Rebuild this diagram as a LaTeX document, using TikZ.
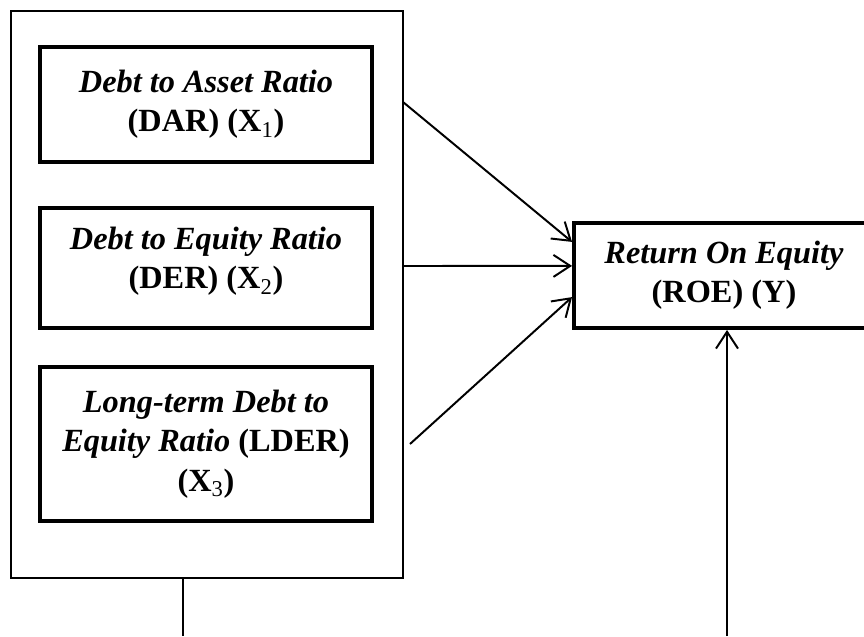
\documentclass[tikz,border=0pt]{standalone}
\usepackage{fontspec}
\setmainfont{Liberation Serif}
\usepackage{tikz}
\usetikzlibrary{arrows.meta, positioning}

\begin{document}
\begin{tikzpicture}[>={Straight Barb[length=0.42cm,width=0.55cm]},
    varbox/.style={draw, line width=2.8pt, align=center, inner sep=0pt,
                   font=\fontsize{23}{28}\selectfont},
    link/.style={->, line width=1.4pt}]
  \useasboundingbox (0,0) rectangle (21.6,-15.9);
  \clip (0,0) rectangle (21.6,-15.9);

  % Independent variables inside one frame
  \node[draw, line width=1.3pt, minimum width=9.8cm, minimum height=14.175cm]
    (frame) at (5.175,-7.3625) {};
  \node[varbox, minimum width=8.3cm, minimum height=2.875cm] (dar) at (5.15,-2.6125)
    {\textbf{\textit{Debt to Asset Ratio}}\\\textbf{(DAR) (X\textsubscript{\mdseries 1})}};
  \node[varbox, minimum width=8.3cm, minimum height=3.0cm, text depth=0.5cm] (der) at (5.15,-6.7)
    {\textbf{\textit{Debt to Equity Ratio}}\\\textbf{(DER) (X\textsubscript{\mdseries 2})}};
  \node[varbox, minimum width=8.3cm, minimum height=3.85cm] (lder) at (5.15,-11.1)
    {\textbf{\textit{Long-term Debt to}}\\\textbf{\textit{Equity Ratio} (LDER)}\\\textbf{(X\textsubscript{\mdseries 3})}};

  % Dependent variable
  \node[varbox, minimum width=7.5cm, minimum height=2.625cm] (roe) at (18.1,-6.8875)
    {\textbf{\textit{Return On Equity}}\\\textbf{(ROE) (Y)}};

  % Arrow start points on the frame
  \coordinate (darOut) at (10.075,-2.55);
  \coordinate (derOut) at (10.075,-6.65);
  \coordinate (lderOut) at (10.25,-11.1);
  \draw[link] (darOut) -- ([yshift=0.84cm]roe.west);
  \draw[link] (derOut) -- ([yshift=0.24cm]roe.west);
  \draw[link] (lderOut) -- ([yshift=-0.54cm]roe.west);

  % Lines running off the bottom edge
  \coordinate (frameBase) at (4.575,-15.9);
  \coordinate (roeBase) at (18.175,-15.9);
  \draw[line width=1.4pt] (frame.south -| frameBase) -- (frameBase);
  \draw[link] (roeBase) -- (roe.south -| roeBase);
\end{tikzpicture}
\end{document}
